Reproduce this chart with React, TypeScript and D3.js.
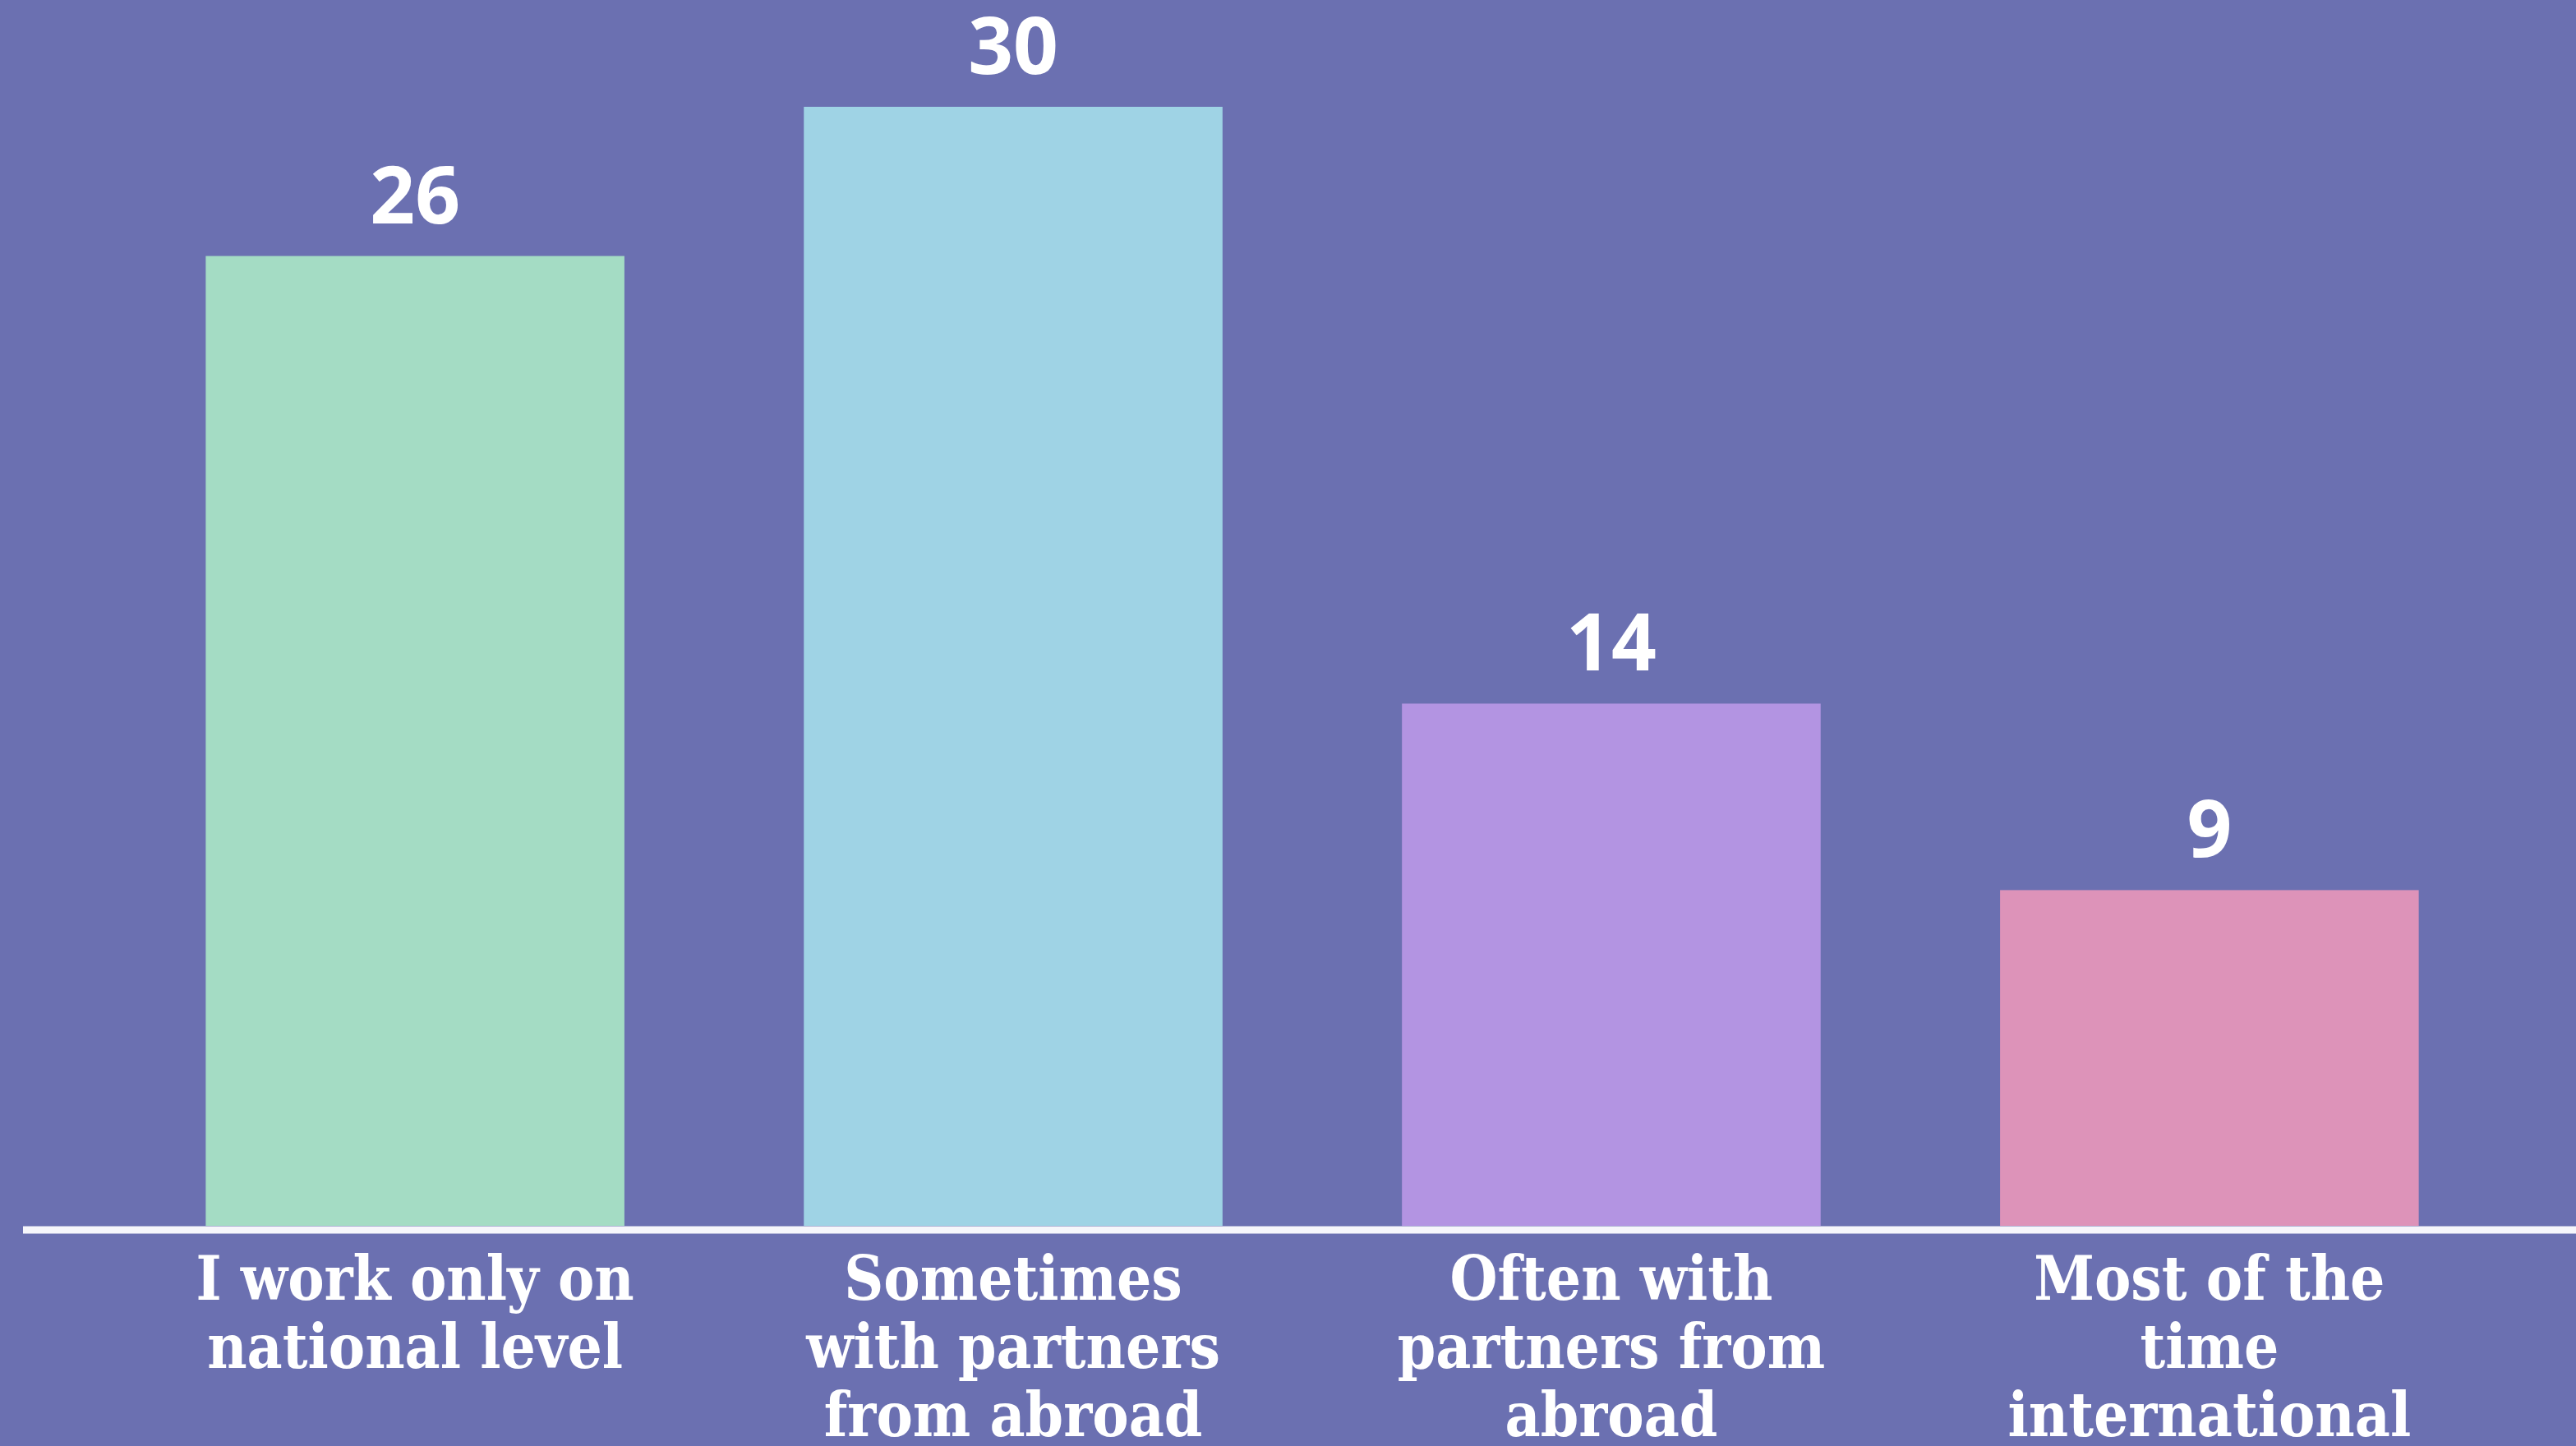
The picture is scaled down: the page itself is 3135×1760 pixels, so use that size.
import { useEffect, useRef } from 'react';
import * as d3 from 'd3';

const categories = ['national', 'sometimes', 'often', 'most'];
const values = [26, 30, 14, 9];
const labelLines = [
  ['I work only on', 'national level'],
  ['Sometimes', 'with partners', 'from abroad'],
  ['Often with', 'partners from', 'abroad'],
  ['Most of the', 'time', 'international'],
];
const barColors = ['#a4dcc4', '#9fd3e5', '#b394e2', '#dd93b9'];

const W = 3135;
const H = 1760;
const BASE_Y = 1492;
const TOP_Y = 130;

export default function App() {
  const svgRef = useRef<SVGSVGElement>(null);

  useEffect(() => {
    if (!svgRef.current) return;
    const svg = d3.select(svgRef.current);
    svg.selectAll('*').remove();

    const x = d3.scaleBand<string>()
      .domain(categories)
      .range([32, 3162])
      .paddingInner(0.3)
      .paddingOuter(0.3);

    const y = d3.scaleLinear()
      .domain([0, d3.max(values) ?? 30])
      .range([BASE_Y, TOP_Y]);

    // background
    svg.append('rect').attr('width', W).attr('height', H).attr('fill', '#6b70b1');

    // bars
    svg.append('g').selectAll('rect')
      .data(values)
      .join('rect')
      .attr('x', (_, i) => x(categories[i])!)
      .attr('y', d => y(d))
      .attr('width', x.bandwidth())
      .attr('height', d => BASE_Y - y(d))
      .attr('fill', (_, i) => barColors[i]);

    // value labels
    svg.append('g').selectAll('text')
      .data(values)
      .join('text')
      .attr('x', (_, i) => x(categories[i])! + x.bandwidth() / 2)
      .attr('y', d => y(d) - 40)
      .attr('text-anchor', 'middle')
      .attr('font-family', '"Open Sans", sans-serif')
      .attr('font-weight', 700)
      .attr('font-size', 96)
      .attr('fill', '#ffffff')
      .text(d => String(d));

    // baseline
    svg.append('line')
      .attr('x1', 28).attr('x2', W)
      .attr('y1', BASE_Y + 5).attr('y2', BASE_Y + 5)
      .attr('stroke', '#f6f6fb').attr('stroke-width', 9);

    // category labels
    const labG = svg.append('g');
    labelLines.forEach((lines, i) => {
      const cx = x(categories[i])! + x.bandwidth() / 2;
      const t = labG.append('text')
        .attr('text-anchor', 'middle')
        .attr('font-family', '"DejaVu Serif Condensed", "DejaVu Serif", serif')
        .attr('font-weight', 700)
        .attr('font-size', 74)
        .attr('fill', '#ffffff');
      lines.forEach((ln, j) => {
        t.append('tspan').attr('x', cx).attr('y', 1582 + j * 83).text(ln);
      });
    });
  }, []);

  return (
    <div style={{ position: 'absolute', left: 0, top: 0, width: W, height: H, overflow: 'hidden' }}>
      <svg ref={svgRef} width={W} height={H} style={{ display: 'block' }} />
    </div>
  );
}
